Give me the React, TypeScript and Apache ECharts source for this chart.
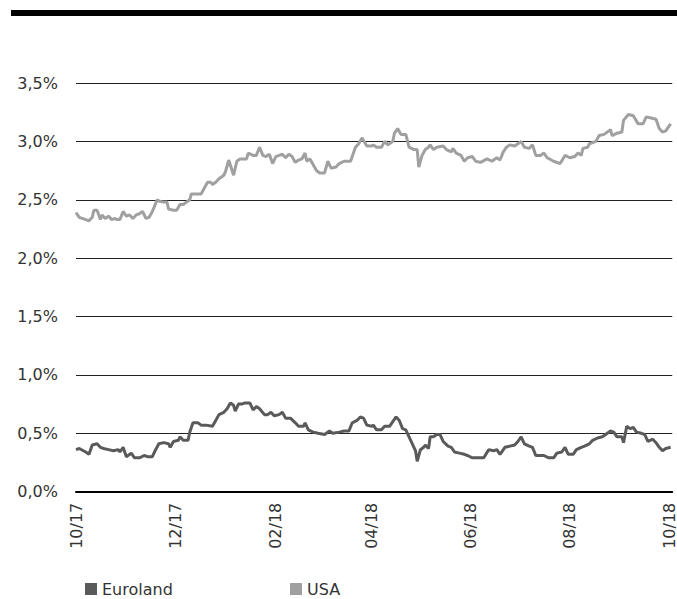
import React, { useEffect, useRef } from "react";
import * as echarts from "echarts";

// Day offsets from 1 Oct 2017
const tickDays = [0, 61, 123, 182, 243, 304, 365];
const tickLabels = ["10/17", "12/17", "02/18", "04/18", "06/18", "08/18", "10/18"];
const yTicks = [0, 0.5, 1.0, 1.5, 2.0, 2.5, 3.0, 3.5];

const usaDays = [
  0, 2, 6, 8, 10, 11, 13, 15, 16, 18, 20, 22, 24, 25, 27, 29, 31, 33, 35, 37,
  39, 41, 43, 45, 47, 50, 51, 54, 56, 57, 60, 62, 64, 66, 68, 70, 71, 73, 75, 77,
  79, 81, 83, 84, 86, 88, 91, 92, 94, 97, 99, 101, 103, 105, 106, 109, 111, 113, 115, 117,
  119, 121, 123, 125, 127, 129, 131, 133, 135, 137, 139, 141, 142, 144, 146, 148, 150, 153, 155, 157,
  160, 162, 165, 169, 172, 174, 176, 179, 182, 183, 185, 188, 190, 192, 195, 196, 198, 200, 203, 205,
  208, 210, 211, 213, 215, 217, 218, 220, 222, 226, 228, 231, 232, 234, 237, 239, 241, 244, 246, 249,
  253, 256, 259, 261, 263, 265, 267, 270, 272, 274, 276, 279, 281, 283, 286, 288, 290, 294, 298, 301,
  304, 307, 309, 311, 312, 315, 316, 320, 322, 325, 329, 330, 333, 336, 337, 340, 343, 346, 349, 351,
  354, 357, 359, 361, 363, 366,
];
const usaValues = [
  2.39, 2.35, 2.33, 2.32, 2.35, 2.41, 2.41, 2.33, 2.37, 2.34, 2.36, 2.33, 2.34, 2.33, 2.33, 2.40, 2.36, 2.37, 2.34, 2.37,
  2.38, 2.40, 2.34, 2.35, 2.40, 2.50, 2.49, 2.48, 2.48, 2.42, 2.41, 2.41, 2.46, 2.46, 2.48, 2.50, 2.55, 2.55, 2.55, 2.55,
  2.60, 2.65, 2.65, 2.63, 2.65, 2.68, 2.71, 2.74, 2.84, 2.71, 2.83, 2.85, 2.85, 2.85, 2.90, 2.88, 2.88, 2.95, 2.88, 2.87,
  2.89, 2.81, 2.87, 2.88, 2.89, 2.86, 2.89, 2.87, 2.82, 2.84, 2.85, 2.90, 2.83, 2.85, 2.80, 2.75, 2.73, 2.73, 2.83, 2.77,
  2.78, 2.81, 2.83, 2.83, 2.95, 2.98, 3.03, 2.96, 2.96, 2.97, 2.95, 2.95, 3.00, 2.97, 3.00, 3.07, 3.11, 3.06, 3.06, 2.95,
  2.93, 2.93, 2.78, 2.88, 2.93, 2.95, 2.97, 2.93, 2.95, 2.96, 2.93, 2.91, 2.94, 2.90, 2.88, 2.83, 2.86, 2.87, 2.83, 2.82,
  2.85, 2.83, 2.86, 2.84, 2.91, 2.95, 2.97, 2.96, 2.98, 3.00, 2.95, 2.94, 2.97, 2.88, 2.88, 2.90, 2.86, 2.83, 2.81, 2.88,
  2.86, 2.87, 2.90, 2.88, 2.94, 2.95, 2.98, 3.00, 3.05, 3.06, 3.10, 3.05, 3.07, 3.08, 3.18, 3.23, 3.22, 3.15, 3.15, 3.21,
  3.20, 3.19, 3.11, 3.08, 3.09, 3.15,
];

const euroDays = [
  0, 2, 6, 8, 10, 13, 15, 17, 20, 23, 26, 27, 29, 31, 34, 36, 39, 42, 44, 47,
  49, 51, 54, 57, 58, 60, 63, 64, 66, 69, 70, 72, 75, 77, 80, 84, 86, 88, 91, 93,
  95, 97, 98, 100, 102, 104, 107, 109, 111, 113, 116, 118, 120, 122, 125, 127, 129, 132, 135, 137,
  140, 141, 143, 146, 149, 153, 156, 158, 162, 165, 168, 170, 173, 175, 177, 179, 182, 183, 185, 188,
  190, 193, 195, 197, 199, 201, 203, 205, 208, 209, 210, 212, 214, 215, 217, 218, 220, 222, 224, 226,
  229, 231, 233, 236, 239, 241, 244, 247, 251, 254, 257, 259, 261, 264, 267, 270, 272, 274, 276, 279,
  281, 283, 286, 288, 291, 294, 296, 299, 301, 303, 306, 308, 311, 313, 316, 318, 321, 324, 326, 329,
  331, 333, 336, 337, 339, 341, 343, 345, 348, 350, 352, 355, 357, 359, 361, 363, 366,
];
const euroValues = [
  0.36, 0.37, 0.34, 0.32, 0.40, 0.41, 0.38, 0.37, 0.36, 0.35, 0.36, 0.34, 0.38, 0.30, 0.33, 0.29, 0.29, 0.31, 0.30, 0.30,
  0.36, 0.41, 0.42, 0.41, 0.38, 0.43, 0.44, 0.47, 0.44, 0.44, 0.51, 0.59, 0.59, 0.57, 0.57, 0.56, 0.61, 0.66, 0.68, 0.71,
  0.76, 0.74, 0.69, 0.75, 0.75, 0.76, 0.76, 0.70, 0.73, 0.71, 0.66, 0.66, 0.68, 0.65, 0.66, 0.68, 0.63, 0.63, 0.59, 0.56,
  0.56, 0.59, 0.53, 0.51, 0.50, 0.49, 0.52, 0.50, 0.51, 0.52, 0.52, 0.59, 0.61, 0.64, 0.63, 0.57, 0.56, 0.57, 0.53, 0.53,
  0.56, 0.56, 0.60, 0.64, 0.61, 0.54, 0.53, 0.47, 0.38, 0.35, 0.26, 0.36, 0.38, 0.40, 0.37, 0.47, 0.47, 0.49, 0.49, 0.43,
  0.39, 0.38, 0.34, 0.33, 0.32, 0.31, 0.29, 0.29, 0.29, 0.36, 0.35, 0.36, 0.32, 0.38, 0.39, 0.40, 0.43, 0.47, 0.41, 0.39,
  0.38, 0.31, 0.31, 0.31, 0.29, 0.29, 0.33, 0.34, 0.38, 0.32, 0.32, 0.36, 0.38, 0.39, 0.41, 0.44, 0.46, 0.47, 0.49, 0.52,
  0.51, 0.47, 0.47, 0.42, 0.56, 0.54, 0.55, 0.51, 0.50, 0.49, 0.43, 0.45, 0.42, 0.38, 0.35, 0.37, 0.38,
];

const FONT = "'DejaVu Sans', sans-serif";

export default function App() {
  const ref = useRef<HTMLDivElement>(null);
  useEffect(() => {
    if (!ref.current) return;
    const chart = echarts.init(ref.current, null, { renderer: "svg" });
    const zip = (d: number[], v: number[]) => d.map((x, i) => [x, v[i]]);
    chart.setOption({
      animation: false,
      backgroundColor: "#fff",
      textStyle: { fontFamily: FONT },
      graphic: [
        {
          type: "rect",
          shape: { x: 11, y: 10, width: 666, height: 6 },
          style: { fill: "#000" },
        },
      ],
      legend: [
        {
          data: ["Euroland"],
          left: 85,
          top: 581,
          padding: 0,
          icon: "rect",
          itemWidth: 12,
          itemHeight: 12,
          textStyle: { fontSize: 16, color: "#333", fontFamily: FONT },
        },
        {
          data: ["USA"],
          left: 290,
          top: 581,
          padding: 0,
          icon: "rect",
          itemWidth: 12,
          itemHeight: 12,
          textStyle: { fontSize: 16, color: "#333", fontFamily: FONT },
        },
      ],
      grid: { left: 76, right: 4, top: 83, bottom: 107.3, containLabel: false },
      xAxis: {
        type: "value",
        min: 0,
        max: 367,
        axisLine: { show: true, lineStyle: { color: "#000", width: 2 } },
        axisTick: { show: false },
        splitLine: { show: false },
        axisLabel: {
          customValues: tickDays,
          rotate: 90,
          margin: 11,
          fontSize: 16,
          color: "#333",
          fontFamily: FONT,
          formatter: (v: number) => {
            const i = tickDays.indexOf(Math.round(v));
            return i >= 0 ? tickLabels[i] : "";
          },
        },
      },
      yAxis: {
        type: "value",
        min: yTicks[0],
        max: yTicks[yTicks.length - 1],
        interval: 0.5,
        axisLine: { show: false },
        axisTick: { show: false },
        splitLine: { show: true, lineStyle: { color: "#222", width: 1 } },
        axisLabel: {
          margin: 18,
          fontSize: 16,
          color: "#333",
          fontFamily: FONT,
          formatter: (v: number) => v.toFixed(1).replace(".", ",") + "%",
        },
      },
      series: [
        {
          name: "Euroland",
          type: "line",
          data: zip(euroDays, euroValues),
          showSymbol: false,
          color: "#5a5a5a",
          lineStyle: { width: 3, color: "#5a5a5a" },
        },
        {
          name: "USA",
          type: "line",
          data: zip(usaDays, usaValues),
          showSymbol: false,
          color: "#a0a0a0",
          lineStyle: { width: 3, color: "#a0a0a0" },
        },
      ],
    });
    return () => chart.dispose();
  }, []);
  return (
    <div
      ref={ref}
      style={{ position: "absolute", left: 0, top: 0, width: 677, height: 599 }}
    />
  );
}
